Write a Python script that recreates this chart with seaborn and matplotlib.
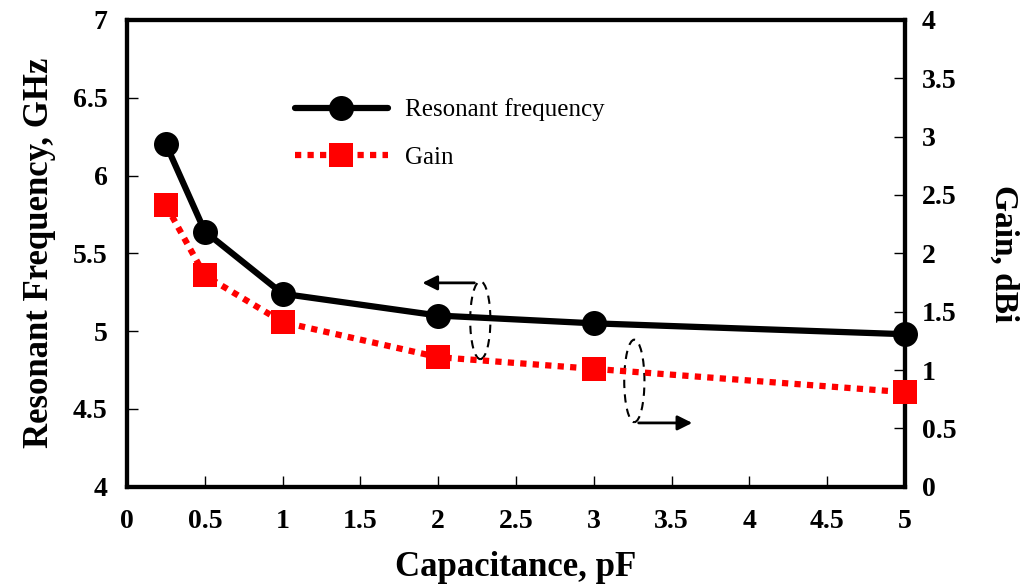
import matplotlib
matplotlib.use('Agg')
import matplotlib.pyplot as plt
import seaborn as sns
import pandas as pd
from matplotlib.patches import Ellipse

# values
capacitance = [0.25, 0.5, 1, 2, 3, 5]
res_freq = [6.20, 5.64, 5.24, 5.10, 5.05, 4.98]
gain = [2.41, 1.81, 1.41, 1.11, 1.01, 0.81]
x_ticks = [0, 0.5, 1, 1.5, 2, 2.5, 3, 3.5, 4, 4.5, 5]
f_ticks = [4, 4.5, 5, 5.5, 6, 6.5, 7]
g_ticks = [0, 0.5, 1, 1.5, 2, 2.5, 3, 3.5, 4]

df = pd.DataFrame({'C': capacitance, 'f': res_freq, 'g': gain})

sns.set_style('white')
plt.rcParams['font.family'] = ['Liberation Serif', 'DejaVu Serif']
plt.rcParams['text.color'] = 'black'
plt.rcParams['axes.labelcolor'] = 'black'
plt.rcParams['xtick.color'] = 'black'
plt.rcParams['ytick.color'] = 'black'

fig = plt.figure(figsize=(10.25, 5.85), dpi=100)
ax = fig.add_axes([0.124, 0.168, 0.759, 0.798])
ax2 = ax.twinx()

sns.lineplot(data=df, x='C', y='f', ax=ax, color='black', lw=4.5,
             marker='o', markersize=18, markeredgewidth=0, label='Resonant frequency',
             legend=False, clip_on=False, zorder=4)
sns.lineplot(data=df, x='C', y='g', ax=ax2, color='red', lw=4.5, linestyle=(0, (1, 1)),
             marker='s', markersize=17, markeredgewidth=0, label='Gain',
             legend=False, clip_on=False, zorder=3)

ax.set_xlim(0, 5)
ax.set_ylim(4, 7)
ax2.set_ylim(0, 4)
ax.set_xticks(x_ticks)
ax.set_xticklabels([f'{v:g}' for v in x_ticks])
ax.set_yticks(f_ticks)
ax.set_yticklabels([f'{v:g}' for v in f_ticks])
ax2.set_yticks(g_ticks)
ax2.set_yticklabels([f'{v:g}' for v in g_ticks])

ax.tick_params(axis='x', bottom=True, top=False, direction='in', length=8, width=1,
               labelsize=20, pad=16)
ax.tick_params(axis='y', left=True, right=False, direction='in', length=8, width=1,
               labelsize=20, pad=14)
ax2.tick_params(axis='y', right=True, left=False, direction='in', length=8, width=1,
                labelsize=20, pad=12)
for a in (ax, ax2):
    for lab in a.get_xticklabels() + a.get_yticklabels():
        lab.set_fontweight('bold')
    for s in a.spines.values():
        s.set_linewidth(3)
        s.set_color('black')

ax.set_xlabel('Capacitance, pF', fontsize=25, fontweight='bold', labelpad=12)
ax.set_ylabel('Resonant Frequency, GHz', fontsize=25, fontweight='bold', labelpad=12)
ax2.set_ylabel('Gain, dBi', fontsize=24, fontweight='bold', rotation=270, labelpad=45)

h1, l1 = ax.get_legend_handles_labels()
h2, l2 = ax2.get_legend_handles_labels()
ax2.legend(h1 + h2, l1 + l2, loc='upper left', bbox_to_anchor=(0.187, 0.88), frameon=False,
           fontsize=18, handlelength=3.7, labelspacing=1.0, handletextpad=0.7)

# ellipses and arrows pointing to the axes
ax.add_patch(Ellipse((2.27, 5.07), 0.13, 0.50, fill=False, ls=(0, (4, 3)), lw=1.5, color='black', zorder=5))
ax.annotate('', xy=(1.88, 5.31), xytext=(2.25, 5.31),
            arrowprops=dict(arrowstyle='-|>', color='black', lw=2, mutation_scale=22))
ax.add_patch(Ellipse((3.26, 4.68), 0.13, 0.53, fill=False, ls=(0, (4, 3)), lw=1.5, color='black', zorder=5))
ax.annotate('', xy=(3.65, 4.41), xytext=(3.27, 4.41),
            arrowprops=dict(arrowstyle='-|>', color='black', lw=2, mutation_scale=22))

fig.savefig('out.png', dpi=100)
